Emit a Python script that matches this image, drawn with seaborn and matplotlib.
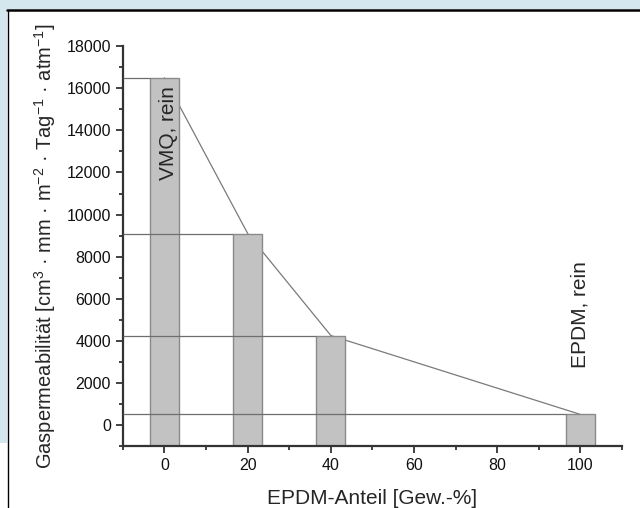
import seaborn as sns
import pandas as pd
import matplotlib.pyplot as plt
from matplotlib.patches import Rectangle
from matplotlib.lines import Line2D

# EPDM share (wt.-%) and gas permeability
epdm_share = [0, 20, 40, 100]
permeability = [16500, 9100, 4250, 500]
labels = {0: "VMQ, rein", 100: "EPDM, rein"}

df = pd.DataFrame({"epdm": epdm_share, "perm": permeability})

sns.set_style("ticks")
plt.rcParams['font.family'] = ['Liberation Sans', 'DejaVu Sans']
plt.rcParams['mathtext.fontset'] = 'custom'
plt.rcParams['mathtext.rm'] = 'Liberation Sans'
plt.rcParams['mathtext.it'] = 'Liberation Sans:italic'

fig = plt.figure(figsize=(6.4, 5.08), dpi=100)
fig.patch.set_facecolor("white")

# light blue frame around the white panel
bg = "#d4e6ee"
fig.add_artist(Rectangle((0, 1 - 9 / 508), 1, 9 / 508, transform=fig.transFigure,
                         facecolor=bg, edgecolor="none", zorder=-10))
fig.add_artist(Rectangle((0, 65 / 508), 7 / 640, 1 - 65 / 508, transform=fig.transFigure,
                         facecolor=bg, edgecolor="none", zorder=-10))
fig.add_artist(Line2D([7 / 640, 1], [1 - 9.5 / 508, 1 - 9.5 / 508], transform=fig.transFigure,
                      color="black", lw=1.8))
fig.add_artist(Line2D([7.5 / 640, 7.5 / 640], [0, 1 - 9.5 / 508], transform=fig.transFigure,
                      color="black", lw=1.0))

ax = fig.add_axes([0.192, 0.122, 0.78, 0.787])
ax.set_facecolor("white")

ybot = -1000

# connecting line (behind the bars)
sns.lineplot(data=df, x="epdm", y="perm", ax=ax, color="#7a7a7a", lw=0.9)
for ln in ax.lines:
    ln.set_zorder(0.5)

sns.barplot(data=df, x="epdm", y="perm", ax=ax, native_scale=True, width=0.35,
            color="#c2c2c2", edgecolor="#8a8a8a", linewidth=1.0, saturation=1)
for p in ax.patches:
    h = p.get_height()
    p.set_y(ybot)
    p.set_height(h - ybot)
    p.set_zorder(2)
    p.set_alpha(1)

# horizontal reference lines from the axis to each bar
half = 3.5
ax.hlines(permeability, -10, [x - half for x in epdm_share], color="#6e6e6e", lw=0.9, zorder=3)

ax.text(1, 16100, labels[0], rotation=90, ha="center", va="top", fontsize=15, zorder=4)
ax.text(100, 2700, labels[100], rotation=90, ha="center", va="bottom", fontsize=15, zorder=4)

ax.set_xlim(-10, 110)
ax.set_ylim(ybot, 18000)
ax.set_xticks([0, 20, 40, 60, 80, 100])
ax.set_xticks([-10, 10, 30, 50, 70, 90, 110], minor=True)
ax.set_yticks(range(0, 18001, 2000))
ax.set_yticks(range(-1000, 18000, 2000), minor=True)
ax.tick_params(axis="both", which="major", direction="out", length=5, width=1.3,
               labelsize=11.5, color="#333333", labelcolor="#111111")
ax.tick_params(axis="both", which="minor", direction="out", length=3, width=1.3, color="#333333")
for s in ["top", "right"]:
    ax.spines[s].set_visible(False)
for s in ["left", "bottom"]:
    ax.spines[s].set_linewidth(1.6)
    ax.spines[s].set_color("#333333")

ax.set_xlabel("EPDM-Anteil [Gew.-%]", fontsize=15, labelpad=12)
ax.set_ylabel("Gaspermeabilität [cm$^3$ · mm · m$^{-2}$ · Tag$^{-1}$ · atm$^{-1}$]",
              fontsize=14.5, labelpad=6)

fig.savefig("out.png", dpi=100)
